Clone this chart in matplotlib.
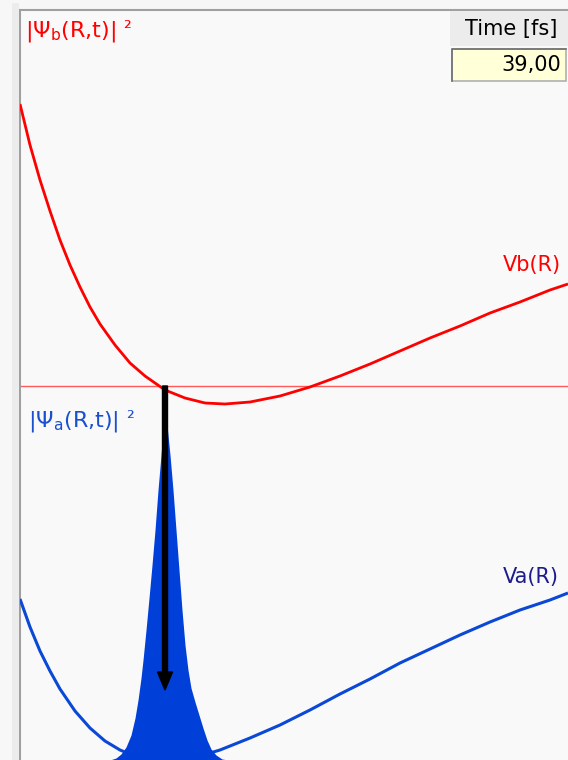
import matplotlib
matplotlib.use("Agg")
import matplotlib.pyplot as plt
from matplotlib.patches import Rectangle
from matplotlib.lines import Line2D

plt.rcParams['font.family'] = ['DejaVu Sans']
plt.rcParams['mathtext.fontset'] = 'dejavusans'

# ---- data (R in a.u.-like units, E in arbitrary energy units) ----
R_vb = [1.00, 1.10, 1.20, 1.30, 1.40, 1.50, 1.60, 1.70, 1.80, 1.95, 2.10, 2.25, 2.45, 2.65,
        2.85, 3.05, 3.30, 3.60, 3.90, 4.20, 4.50, 4.80, 5.10, 5.40, 5.70, 6.00, 6.30, 6.48]
E_vb = [6.56, 6.15, 5.80, 5.49, 5.20, 4.95, 4.73, 4.53, 4.36, 4.15, 3.97, 3.84, 3.70, 3.62,
        3.57, 3.56, 3.58, 3.64, 3.73, 3.84, 3.96, 4.09, 4.22, 4.34, 4.47, 4.58, 4.70, 4.76]

R_va = [1.00, 1.10, 1.20, 1.30, 1.40, 1.55, 1.70, 1.85, 2.00, 2.15, 2.30, 2.45, 2.60, 2.80,
        3.00, 3.30, 3.60, 3.90, 4.20, 4.50, 4.80, 5.10, 5.40, 5.70, 6.00, 6.30, 6.48]
E_va = [1.61, 1.33, 1.09, 0.89, 0.71, 0.49, 0.32, 0.19, 0.10, 0.04, 0.01, 0.00, 0.01, 0.04,
        0.10, 0.22, 0.35, 0.50, 0.66, 0.81, 0.97, 1.11, 1.25, 1.38, 1.50, 1.60, 1.67]

R_psi = [1.90, 1.96, 2.01, 2.06, 2.11, 2.15, 2.18, 2.21, 2.23, 2.26, 2.29, 2.32, 2.35, 2.38,
         2.41, 2.43, 2.45, 2.47, 2.50, 2.53, 2.56, 2.59, 2.62, 2.65, 2.68, 2.71, 2.75, 2.79,
         2.83, 2.87, 2.91, 2.96, 3.02, 3.08]
P_psi = [0.00, 0.02, 0.06, 0.13, 0.25, 0.42, 0.60, 0.82, 1.00, 1.30, 1.62, 1.95, 2.30, 2.70,
         3.05, 3.30, 3.48, 3.35, 3.05, 2.70, 2.30, 1.90, 1.50, 1.15, 0.90, 0.72, 0.58, 0.45,
         0.32, 0.20, 0.11, 0.05, 0.01, 0.00]

E_probe = 3.74          # horizontal energy line
R_trans = 2.45          # transition position
E_arrow_end = 0.70

label_vb = r'$\mathrm{|\Psi_b(R{,}t)|}$'
label_va = r'$\mathrm{|\Psi_a(R{,}t)|}$'
sq = '²'
time_title = 'Time [fs]'
time_value = '39,00'

W, H = 568, 760
fig = plt.figure(figsize=(W / 100, H / 100), dpi=100)
fig.patch.set_facecolor('#f7f7f7')

def fx(px):
    return px / W

def fy(py):
    return 1 - py / H

# left gray strip
fig.patches.append(Rectangle((fx(12), 0), fx(19) - fx(12), fy(3), transform=fig.transFigure,
                             facecolor='#ececec', edgecolor='none', zorder=0))

ax = fig.add_axes([fx(20), 0, 1 - fx(20), fy(10)])
ax.set_facecolor('#f9f9f9')
ax.set_xlim(1.0, 6.48)
ax.set_ylim(0.0, 7.5)
for s in ['right', 'bottom']:
    ax.spines[s].set_visible(False)
for s in ['left', 'top']:
    ax.spines[s].set_color('#a0a0a0')
    ax.spines[s].set_linewidth(1.5)
ax.set_xticks([])
ax.set_yticks([])

ax.axhline(E_probe, color='#ff5a5a', lw=1.0, zorder=2)
ax.plot(R_vb, E_vb, color='#ff0000', lw=2.0, zorder=3, solid_capstyle='butt')
ax.plot(R_va, E_va, color='#0a48d6', lw=2.2, zorder=3, solid_capstyle='butt')
ax.fill_between(R_psi, 0, P_psi, color='#0040d8', lw=0, zorder=4)

ax.arrow(R_trans, E_probe, 0, E_arrow_end - E_probe, width=0.05, head_width=0.15,
         head_length=0.18, length_includes_head=True, color='black', zorder=6)

fig.text(fx(25), fy(31), label_vb, color='#ff0000', fontsize=16, va='center', ha='left')
fig.text(fx(123), fy(34), sq, color='#ff0000', fontsize=14, va='baseline', ha='left')
fig.text(fx(28), fy(421), label_va, color='#1a50d0', fontsize=16, va='center', ha='left')
fig.text(fx(126), fy(424), sq, color='#1a50d0', fontsize=14, va='baseline', ha='left')
fig.text(fx(503), fy(265), 'Vb(R)', color='#ff0000', fontsize=15, va='center', ha='left')
fig.text(fx(503), fy(577), 'Va(R)', color='#1c1c8c', fontsize=15, va='center', ha='left')

# time box
fig.patches.append(Rectangle((fx(450), fy(46)), fx(568) - fx(450), fy(11) - fy(46),
                             transform=fig.transFigure, facecolor='#ececec', edgecolor='none', zorder=5))
fig.patches.append(Rectangle((fx(452), fy(81)), fx(566) - fx(452), fy(49) - fy(81),
                             transform=fig.transFigure, facecolor='#ffffd8', edgecolor='#b0b0b0',
                             lw=1.2, zorder=5))
fig.lines.append(Line2D([fx(452), fx(452), fx(566)], [fy(81), fy(49), fy(49)],
                        transform=fig.transFigure, color='#707070', lw=1.2, zorder=6))
fig.text(fx(557), fy(29), time_title, color='black', fontsize=15, va='center', ha='right', zorder=7)
fig.text(fx(561), fy(65), time_value, color='black', fontsize=15, va='center', ha='right', zorder=7)

fig.savefig('out.png', dpi=100, facecolor=fig.get_facecolor())
